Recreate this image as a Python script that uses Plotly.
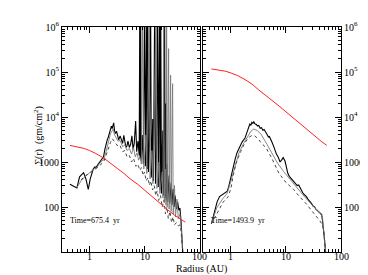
import plotly.graph_objects as go
from plotly.subplots import make_subplots

FONT = "Liberation Serif"

# ---------------- left panel (t = 675.4 yr) ----------------
L_RED_R = [0.44, 0.6, 0.8, 1.0, 1.3, 1.8, 2.4, 3.2, 4.2, 5.5, 7.5, 10, 14, 19, 26, 35, 45, 55]
L_RED_S = [2340, 2200, 2000, 1800, 1550, 1230, 960, 720, 560, 420, 320, 235, 166, 122, 88, 66, 54, 46]

L_BLACK_R = [0.44, 0.52, 0.59, 0.66, 0.72, 0.78, 0.86, 0.95, 1.03, 1.10, 1.17, 1.25, 1.33, 1.42,
             1.52, 1.62, 1.72, 1.80, 1.90, 2.00, 2.10, 2.20, 2.30, 2.40, 2.50, 2.58, 2.66, 2.75,
             2.85, 2.95, 3.10, 3.25, 3.40, 3.60, 3.80, 4.00, 4.20, 4.40, 4.60, 4.80, 5.00, 5.30,
             5.60, 5.90, 6.20, 6.50, 6.90, 7.20, 7.60, 8.00, 8.20, 8.35, 8.50, 8.70, 9.10, 9.50,
             10.1, 10.4, 11.0, 11.2, 11.4, 11.8, 12.3, 12.9, 13.3, 14.1, 14.5, 15.3, 15.8, 16.5,
             17.3, 17.8, 18.8, 19.2, 19.7, 20.3, 21.4, 22.0, 23.2, 23.6, 24.2, 24.8, 26.0, 26.5,
             28.0, 28.8, 30.5, 31.5, 33.0, 34.5, 36.0, 38.0, 40.0, 42.0, 44.0, 46.0, 48.0, 49.5]
L_BLACK_S = [320, 290, 265, 470, 520, 580, 420, 245, 420, 540, 700, 780, 760, 880,
             980, 1050, 1150, 1300, 1900, 2600, 3100, 3600, 4600, 5400, 6300, 5500, 7000, 7400,
             5000, 4300, 4800, 3500, 3100, 3800, 2900, 2600, 3900, 2700, 2100, 2300, 2900, 2100,
             2500, 3800, 1900, 2600, 8100, 1700, 2900, 1400, 3e6, 1200, 3e6, 1100, 4000, 900,
             3e6, 800, 3e6, 700, 3e6, 600, 2500, 3e6, 450, 9000, 380, 3e6, 330, 1500,
             3e6, 280, 3e6, 240, 3e6, 200, 5000, 180, 3e6, 160, 2e4, 140, 900, 130,
             500, 120, 350, 110, 250, 100, 180, 90, 130, 85, 95, 50, 22, 10]

L_GRAY_R = [0.59, 0.7, 0.8, 0.9, 1.0, 1.1, 1.2, 1.35, 1.5, 1.65, 1.8, 1.95, 2.1, 2.25, 2.4,
            2.55, 2.7, 2.85, 3.0, 3.3, 3.6, 4.0, 4.4, 4.8, 5.3, 5.8, 6.3, 6.8, 7.3, 7.8, 8.2,
            8.8, 9.3, 9.7, 10.6, 11.0, 12.2, 12.6, 13.6, 14.2, 16.3, 16.8, 18.3, 19.0, 21.0,
            21.6, 22.3, 22.8, 24.0, 24.6, 25.2, 25.8, 27.4, 28.0, 29.8, 30.5, 32.4, 33.2, 35,
            36.5, 39, 41, 44, 46, 48, 49.5]
L_GRAY_S = [270, 380, 450, 520, 600, 640, 700, 740, 900, 1000, 1150, 1500, 2200, 3000, 4200,
            4800, 5500, 4000, 3600, 2900, 3000, 2200, 2400, 1800, 2000, 1500, 2100, 1300, 1600, 1100, 1300,
            900, 3e6, 700, 4000, 550, 3e6, 420, 1800, 330, 3e6, 260, 1000, 200, 600,
            160, 3e6, 130, 700, 110, 3e6, 100, 3.3e5, 90, 85000, 80, 55000, 70, 300,
            60, 150, 55, 70, 40, 20, 10]

L_DOT_R = [0.7, 0.85, 1.0, 1.2, 1.4, 1.6, 1.8, 2.0, 2.2, 2.4, 2.6, 2.8, 3.0, 3.3, 3.6, 4.0,
           4.4, 4.8, 5.3, 5.8, 6.3, 7.0, 7.6, 8.2, 8.8, 9.4, 10, 10.7, 11.5, 12.3, 13, 14, 15,
           16, 17, 18, 19.5, 21, 22.5, 24, 25.5, 27, 29, 31, 33, 35, 38, 41, 44, 46, 48, 49.5]
L_DOT_S = [400, 500, 560, 650, 760, 880, 1000, 1400, 2000, 2700, 3300, 3000, 2600, 2200, 2300, 1700,
           1800, 1300, 1400, 1000, 1200, 800, 900, 650, 750, 500, 600, 380, 450, 300, 380, 240, 300,
           180, 230, 140, 180, 100, 140, 70, 100, 55, 80, 45, 60, 40, 45, 38, 40, 30, 18, 10]

# ---------------- right panel (t = 1493.9 yr) ----------------
R_RED_R = L_RED_R
R_RED_S = [117000, 112000, 104000, 95000, 84000, 68000, 54000, 40000, 31000, 23500, 17500,
           13000, 9200, 6700, 4800, 3500, 2800, 2350]

R_BLACK_R = [0.44, 0.5, 0.56, 0.62, 0.7, 0.78, 0.86, 0.92, 1.0, 1.1, 1.2, 1.3, 1.45, 1.6, 1.8,
             1.95, 2.1, 2.2, 2.3, 2.4, 2.5, 2.6, 2.75, 2.9, 3.05, 3.2, 3.4, 3.6, 3.8, 4.0, 4.3,
             4.5, 4.8, 5.0, 5.3, 5.6, 6.0, 6.3, 6.7, 7.2, 7.8, 8.3, 8.9, 9.6, 10.2, 10.8, 11.5,
             12.3, 13.2, 14.0, 15.0, 16.0, 17.0, 17.8, 19, 20.5, 22, 23.5, 25, 27, 29, 31, 33,
             35, 37, 39, 41, 43, 44.5, 46, 47.5, 49, 51, 52.5]
R_BLACK_S = [42, 75, 130, 170, 190, 205, 225, 300, 480, 800, 1200, 1650, 2200, 2800, 3400,
             4600, 6000, 7000, 6600, 7600, 7200, 7800, 7000, 6800, 6300, 6500, 5600, 5800, 5100, 5300, 4600,
             4000, 3600, 3700, 3000, 2700, 2200, 1850, 1500, 1300, 1000, 1100, 1250, 1050, 700, 560, 480,
             440, 400, 370, 330, 300, 310, 270, 240, 200, 185, 170, 150, 135, 120, 105, 100,
             90, 85, 80, 75, 72, 68, 50, 38, 25, 15, 10]

R_GRAY_R = [0.44, 0.55, 0.7, 0.85, 1.0, 1.2, 1.4, 1.7, 2.0, 2.3, 2.6, 3.0, 3.5, 4.0, 4.5, 5.5,
            7, 9, 12, 16, 20, 25, 30, 36, 42, 46, 48, 50, 52.5]
R_GRAY_S = [42, 95, 150, 200, 380, 900, 1600, 2600, 3700, 4800, 5400, 5000, 4200, 3300, 2500, 1600,
            950, 620, 400, 260, 190, 140, 110, 88, 72, 60, 35, 20, 10]

R_DOT_R = [0.44, 0.55, 0.72, 0.89, 1.0, 1.1, 1.24, 1.5, 1.8, 2.1, 2.4, 2.7, 3.1, 3.6, 4.3, 5.5,
           7.4, 10, 13.8, 18, 23.5, 30, 36, 41, 45, 48, 50, 52.5]
R_DOT_S = [42, 70, 128, 170, 260, 500, 950, 1700, 2700, 3500, 3900, 3800, 3300, 2600, 2100, 1230,
           570, 350, 245, 165, 117, 80, 62, 50, 42, 33, 20, 10]

X_TICKS = [1, 10, 100]
X_TEXT = ["1", "10", "100"]
Y_TICKS = [100, 1000, 1e4, 1e5, 1e6]
Y_TEXT = ["100", "1000", "10<sup>4</sup>", "10<sup>5</sup>", "10<sup>6</sup>"]

fig = make_subplots(rows=1, cols=2, horizontal_spacing=0.014)


def add_panel(col, red, black, gray, dot):
    fig.add_trace(go.Scatter(x=black[0], y=black[1], mode="lines",
                             line=dict(color="black", width=1.1)), row=1, col=col)
    fig.add_trace(go.Scatter(x=gray[0], y=gray[1], mode="lines",
                             line=dict(color="#7a7a7a", width=0.9)), row=1, col=col)
    fig.add_trace(go.Scatter(x=dot[0], y=dot[1], mode="lines",
                             line=dict(color="#444444", width=1, dash="dot")), row=1, col=col)
    fig.add_trace(go.Scatter(x=red[0], y=red[1], mode="lines",
                             line=dict(color="#ff2020", width=1)), row=1, col=col)


add_panel(1, (L_RED_R, L_RED_S), (L_BLACK_R, L_BLACK_S), (L_GRAY_R, L_GRAY_S), (L_DOT_R, L_DOT_S))
add_panel(2, (R_RED_R, R_RED_S), (R_BLACK_R, R_BLACK_S), (R_GRAY_R, R_GRAY_S), (R_DOT_R, R_DOT_S))

minor_x = [m * 10 ** e for e in (-1, 0, 1) for m in range(2, 10)]
minor_y = [m * 10 ** e for e in (1, 2, 3, 4, 5) for m in range(2, 10)]

axis_common = dict(showline=True, linecolor="black", linewidth=1, mirror="allticks",
                   ticks="inside", ticklen=6, tickcolor="black", showgrid=False,
                   zeroline=False, tickfont=dict(family=FONT, size=10, color="black"))

# x tick labels are drawn as annotations on the axis scale so they sit close to the frame
fig.update_xaxes(type="log", range=[-0.5, 2], tickmode="array", tickvals=X_TICKS,
                 showticklabels=False,
                 minor=dict(tickmode="array", tickvals=minor_x, ticks="inside", ticklen=3,
                            tickcolor="black", showgrid=False),
                 **axis_common)
fig.update_yaxes(type="log", range=[1, 6], tickmode="array", tickvals=Y_TICKS, ticktext=Y_TEXT,
                 minor=dict(tickmode="array", tickvals=minor_y, ticks="inside", ticklen=3,
                            tickcolor="black", showgrid=False),
                 **axis_common)
fig.update_yaxes(side="right", row=1, col=2)

fig.update_layout(
    width=368, height=275,
    margin=dict(l=54, r=33, t=14, b=31),
    paper_bgcolor="white", plot_bgcolor="white",
    showlegend=False,
    font=dict(family=FONT, size=10, color="black"),
)

for xref in ("x", "x2"):
    for val, txt in zip(X_TICKS, X_TEXT):
        fig.add_annotation(text=txt, xref=xref, yref="paper", x=len(str(val)) - 1, y=-0.022,
                           yanchor="middle", showarrow=False,
                           font=dict(family=FONT, size=10, color="black"))

fig.add_annotation(text="Radius (AU)", xref="paper", yref="paper", x=0.5, y=-0.075,
                   yanchor="middle", showarrow=False,
                   font=dict(family=FONT, size=10, color="black"))
fig.add_annotation(text="\u03a3(r)  (gm/cm<sup>2</sup>)", xref="paper", yref="paper",
                   x=-0.117, y=0.52, textangle=-90, showarrow=False,
                   font=dict(family=FONT, size=10, color="black"))
fig.add_annotation(text="Time=675.4  yr", xref="paper", yref="paper", x=0.021, y=0.109,
                   xanchor="left", showarrow=False, font=dict(family=FONT, size=8, color="black"))
fig.add_annotation(text="Time=1493.9  yr", xref="paper", yref="paper", x=0.527, y=0.109,
                   xanchor="left", showarrow=False, font=dict(family=FONT, size=8, color="black"))

fig.write_html("out.html")
